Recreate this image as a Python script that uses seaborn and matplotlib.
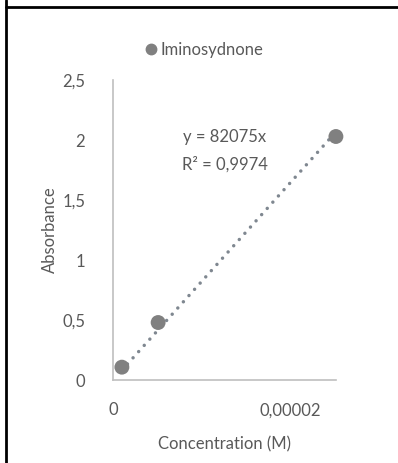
import numpy as np
import pandas as pd
import matplotlib
matplotlib.use("Agg")
import matplotlib.pyplot as plt
import seaborn as sns
from matplotlib.ticker import FuncFormatter
from matplotlib.lines import Line2D

# data
concentration = [1.0e-6, 5.1e-6, 2.52e-5]
absorbance = [0.108, 0.48, 2.03]
series_name = "Iminosydnone"
slope = 82075
r2 = 0.9974

x_ticks = [0, 0.00002]
y_ticks = [0, 0.5, 1, 1.5, 2, 2.5]

sns.set_style("white")
plt.rcParams['font.family'] = ['Lato', 'DejaVu Sans']
grey_txt = "#595959"
fs = 12

df = pd.DataFrame({"Concentration (M)": concentration, "Absorbance": absorbance})

fig = plt.figure(figsize=(3.98, 4.63), dpi=100)
ax = fig.add_axes([0.284, 0.179, 0.56, 0.648])

# trendline through origin
xs = np.array([min(concentration), max(concentration)])
ax.plot(xs, slope * xs, linestyle=(0, (0.01, 2.4)), color="#7f8790", lw=2.5,
        dash_capstyle="round", zorder=1, clip_on=False)
sns.scatterplot(data=df, x="Concentration (M)", y="Absorbance", ax=ax,
                color="#808080", s=115, edgecolor="none", zorder=2, clip_on=False)

ax.set_xlim(0, 2.52e-5)
ax.set_ylim(0, 2.5)
ax.set_xticks(x_ticks)
ax.set_yticks(y_ticks)

def comma_fmt(v, pos):
    if v == 0:
        return "0"
    s = f"{v:.5f}".rstrip("0").rstrip(".") if abs(v) < 0.001 else f"{v:g}"
    return s.replace(".", ",")

ax.xaxis.set_major_formatter(FuncFormatter(comma_fmt))
ax.yaxis.set_major_formatter(FuncFormatter(comma_fmt))
ax.tick_params(length=0, labelsize=fs, labelcolor=grey_txt)
ax.tick_params(axis="x", pad=16)
ax.tick_params(axis="y", pad=20)

for side in ["top", "right"]:
    ax.spines[side].set_visible(False)
ax.spines["left"].set_color("#bfbfbf")
ax.spines["bottom"].set_color("#bfbfbf")
ax.spines["left"].set_linewidth(1.2)
ax.spines["bottom"].set_linewidth(1.2)

ax.set_xlabel("Concentration (M)", fontsize=fs, color=grey_txt, labelpad=13)
ax.set_ylabel("Absorbance", fontsize=fs, color=grey_txt, labelpad=3)

ax.text(0.5, 0.81, f"y = {slope}x", transform=ax.transAxes, ha="center",
        va="center", fontsize=fs, color=grey_txt)
ax.text(0.5, 0.72, "R² = " + f"{r2}".replace(".", ","), transform=ax.transAxes,
        ha="center", va="center", fontsize=fs, color=grey_txt)

handle = Line2D([], [], marker="o", linestyle="none", color="#808080",
                markersize=7.5)
fig.legend([handle], [series_name], loc="center", bbox_to_anchor=(0.51, 0.892),
           frameon=False, fontsize=fs, labelcolor=grey_txt, handletextpad=0.1,
           handlelength=1)

# table-cell border lines
fig.add_artist(Line2D([0.014, 0.014], [0, 1], color="black", lw=2,
                      transform=fig.transFigure))
fig.add_artist(Line2D([0.014, 1], [0.985, 0.985], color="black", lw=2,
                      transform=fig.transFigure))

fig.savefig("out.png", dpi=100)
